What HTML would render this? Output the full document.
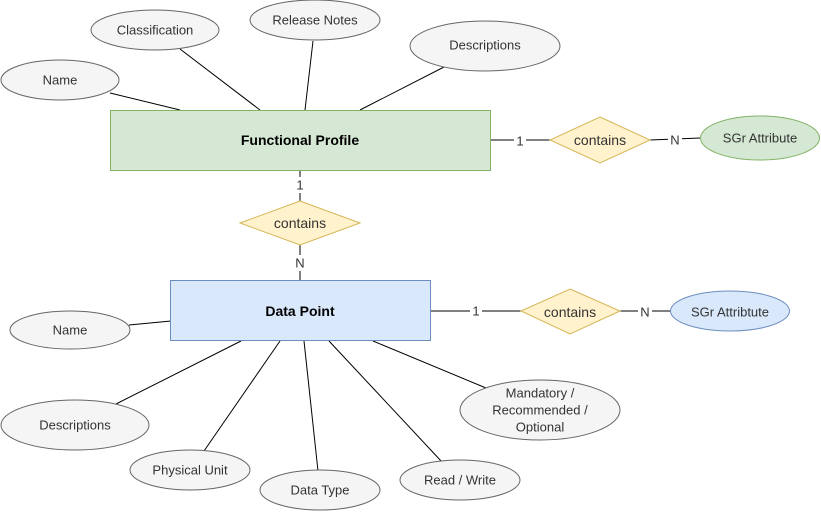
<!DOCTYPE html>
<html><head><style>
html,body{margin:0;padding:0;background:#fff;}
svg{display:block;}
text{font-family:"Liberation Sans",Helvetica,Arial,sans-serif;font-size:13px;fill:#333;text-anchor:middle;dominant-baseline:central;}
.e{fill:#f5f5f5;stroke:#666;stroke-width:1;}
.l{stroke:#000;stroke-width:1;fill:none;}
.d{fill:#fff2cc;stroke:#d6b656;stroke-width:1;}
.lb{fill:#fff;}
</style></head><body>
<svg width="821" height="512" viewBox="0 0 821 512" xmlns="http://www.w3.org/2000/svg">
<!-- top attribute connectors -->
<line class="l" x1="110" y1="93" x2="180" y2="110"/>
<line class="l" x1="180" y1="49" x2="260" y2="110"/>
<line class="l" x1="313" y1="41" x2="305" y2="110"/>
<line class="l" x1="444" y1="67" x2="360" y2="110"/>
<!-- bottom attribute connectors -->
<line class="l" x1="129" y1="325" x2="171" y2="321"/>
<line class="l" x1="116" y1="404" x2="241" y2="341"/>
<line class="l" x1="204" y1="451" x2="280" y2="341"/>
<line class="l" x1="318" y1="471" x2="304" y2="341"/>
<line class="l" x1="442" y1="462" x2="329" y2="341"/>
<line class="l" x1="486" y1="388" x2="373" y2="341"/>
<!-- relationship lines -->
<line class="l" x1="490" y1="140" x2="550" y2="140"/>
<line class="l" x1="650" y1="140" x2="700" y2="138"/>
<line class="l" x1="300" y1="170" x2="300" y2="201"/>
<line class="l" x1="300" y1="245" x2="300" y2="280"/>
<line class="l" x1="430" y1="311" x2="521" y2="311"/>
<line class="l" x1="620" y1="311" x2="671" y2="311"/>
<!-- entities -->
<rect x="110.5" y="110.5" width="380" height="60" fill="#d5e8d4" stroke="#82b366"/>
<text x="300" y="140" style="font-weight:bold;fill:#000;font-size:14px">Functional Profile</text>
<rect x="170.5" y="280.5" width="260" height="60" fill="#dae8fc" stroke="#6c8ebf"/>
<text x="300" y="311" style="font-weight:bold;fill:#000;font-size:14px">Data Point</text>
<!-- diamonds -->
<polygon class="d" points="600,117 650,140 600,163 550,140"/>
<text x="600" y="140" style="font-size:14px">contains</text>
<polygon class="d" points="300,201 360,223 300,245 240,223"/>
<text x="300" y="223" style="font-size:14px">contains</text>
<polygon class="d" points="570,289 620,311 570,334 521,311"/>
<text x="570" y="312" style="font-size:14px">contains</text>
<!-- cardinality labels -->
<rect class="lb" x="514" y="132" width="12" height="16"/><text x="520" y="141">1</text>
<rect class="lb" x="668" y="132" width="14" height="16"/><text x="675" y="140">N</text>
<rect class="lb" x="294" y="177" width="12" height="16"/><text x="300" y="185">1</text>
<rect class="lb" x="293" y="255" width="14" height="16"/><text x="300" y="263">N</text>
<rect class="lb" x="470" y="303" width="12" height="16"/><text x="476" y="311">1</text>
<rect class="lb" x="638" y="303" width="14" height="16"/><text x="645" y="312">N</text>
<!-- SGr ellipses -->
<ellipse cx="760" cy="138" rx="59.5" ry="22" fill="#d5e8d4" stroke="#82b366"/>
<text x="760" y="138">SGr Attribute</text>
<ellipse cx="730" cy="311" rx="59.5" ry="20" fill="#dae8fc" stroke="#6c8ebf"/>
<text x="730" y="312">SGr Attribtute</text>
<!-- top attributes -->
<ellipse class="e" cx="60" cy="80" rx="59" ry="20"/><text x="60" y="80">Name</text>
<ellipse class="e" cx="155" cy="30" rx="64" ry="20"/><text x="155" y="30">Classification</text>
<ellipse class="e" cx="315" cy="20" rx="65" ry="20"/><text x="315" y="20">Release Notes</text>
<ellipse class="e" cx="485" cy="46" rx="75" ry="25"/><text x="485" y="45">Descriptions</text>
<!-- bottom attributes -->
<ellipse class="e" cx="70" cy="330" rx="60" ry="19"/><text x="70" y="330">Name</text>
<ellipse class="e" cx="75" cy="425" rx="74" ry="25"/><text x="75" y="425">Descriptions</text>
<ellipse class="e" cx="190" cy="470" rx="60" ry="20"/><text x="190" y="470">Physical Unit</text>
<ellipse class="e" cx="320" cy="490" rx="60" ry="20"/><text x="320" y="490">Data Type</text>
<ellipse class="e" cx="460" cy="480" rx="60" ry="20"/><text x="460" y="480">Read / Write</text>
<ellipse class="e" cx="540" cy="410" rx="80" ry="30"/>
<text x="540" y="393">Mandatory /</text>
<text x="540" y="410">Recommended /</text>
<text x="540" y="427">Optional</text>
</svg>
</body></html>
